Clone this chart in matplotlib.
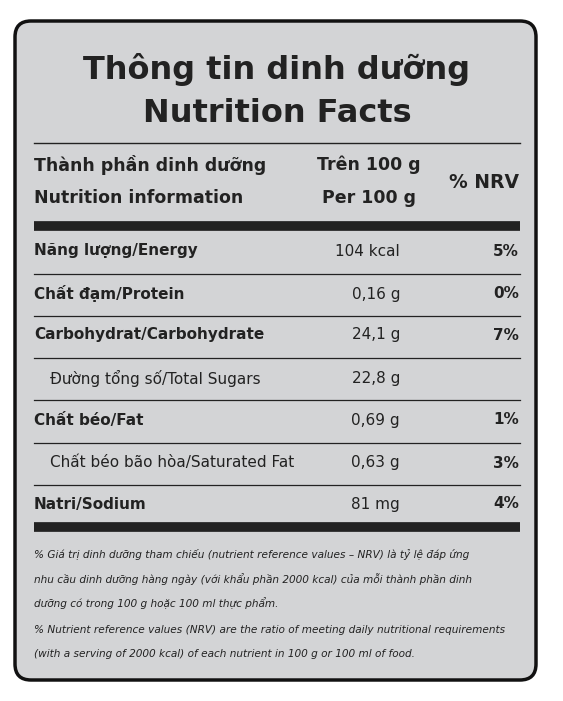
import matplotlib
matplotlib.use("Agg")
import matplotlib.pyplot as plt
from matplotlib.patches import FancyBboxPatch

title_vi = "Thông tin dinh dưỡng"
title_en = "Nutrition Facts"
header_left = ["Thành phần dinh dưỡng", "Nutrition information"]
header_mid = ["Trên 100 g", "Per 100 g"]
header_right = "% NRV"
names = ["Năng lượng/Energy", "Chất đạm/Protein", "Carbohydrat/Carbohydrate",
         "Đường tổng số/Total Sugars", "Chất béo/Fat",
         "Chất béo bão hòa/Saturated Fat", "Natri/Sodium"]
values = ["104 kcal", "0,16 g", "24,1 g", "22,8 g", "0,69 g", "0,63 g", "81 mg"]
nrv = ["5%", "0%", "7%", "", "1%", "3%", "4%"]
sub_row = [False, False, False, True, False, True, False]
notes = [
    "% Giá trị dinh dưỡng tham chiếu (nutrient reference values – NRV) là tỷ lệ đáp ứng",
    "nhu cầu dinh dưỡng hàng ngày (với khẩu phần 2000 kcal) của mỗi thành phần dinh",
    "dưỡng có trong 100 g hoặc 100 ml thực phẩm.",
    "% Nutrient reference values (NRV) are the ratio of meeting daily nutritional requirements",
    "(with a serving of 2000 kcal) of each nutrient in 100 g or 100 ml of food.",
]

FAM = ["DejaVu Sans"]
BG = "#d3d4d6"
fig = plt.figure(figsize=(5.63, 7.01), dpi=100, facecolor="white")
ax = fig.add_axes([0, 0, 1, 1])
ax.set_xlim(0, 563); ax.set_ylim(701, 0); ax.axis("off")
ax.add_patch(FancyBboxPatch((15, 21), 521, 659, boxstyle="round,pad=0,rounding_size=16",
                            facecolor=BG, edgecolor="#111", lw=2.5))
ax.text(277, 70, title_vi, ha="center", va="center", fontsize=23, weight="bold", family=FAM, color="#222")
ax.text(277, 113, title_en, ha="center", va="center", fontsize=23, weight="bold", family=FAM, color="#222")
ax.plot([34, 520], [143, 143], color="#222", lw=1)
for i, y in enumerate([165, 198]):
    ax.text(34, y, header_left[i], ha="left", va="center", fontsize=12.5, weight="bold", family=FAM, color="#222")
    ax.text(369, y, header_mid[i], ha="center", va="center", fontsize=12.5, weight="bold", family=FAM, color="#222")
ax.text(519, 182, header_right, ha="right", va="center", fontsize=13.5, weight="bold", family=FAM, color="#222")
ax.plot([34, 520], [226, 226], color="#222", lw=7, solid_capstyle="butt")
ys = [251, 294, 335, 378, 420, 463, 504]
for i, y in enumerate(ys):
    ax.text(50 if sub_row[i] else 34, y, names[i], ha="left", va="center", fontsize=11,
            weight="normal" if sub_row[i] else "bold", family=FAM, color="#222")
    ax.text(400, y, values[i], ha="right", va="center", fontsize=11, family=FAM, color="#222")
    if nrv[i]:
        ax.text(519, y, nrv[i], ha="right", va="center", fontsize=11, weight="bold", family=FAM, color="#222")
    if i < len(ys) - 1:
        ax.plot([34, 520], [(y + ys[i+1]) / 2 + 1, (y + ys[i+1]) / 2 + 1], color="#222", lw=0.9)
ax.plot([34, 520], [527, 527], color="#222", lw=7, solid_capstyle="butt")
for y, t in zip([555, 579, 603, 630, 654], notes):
    ax.text(34, y, t, ha="left", va="center", fontsize=7.6, style="italic", family=FAM, color="#222")
fig.savefig("out.png", dpi=100, facecolor="white")
